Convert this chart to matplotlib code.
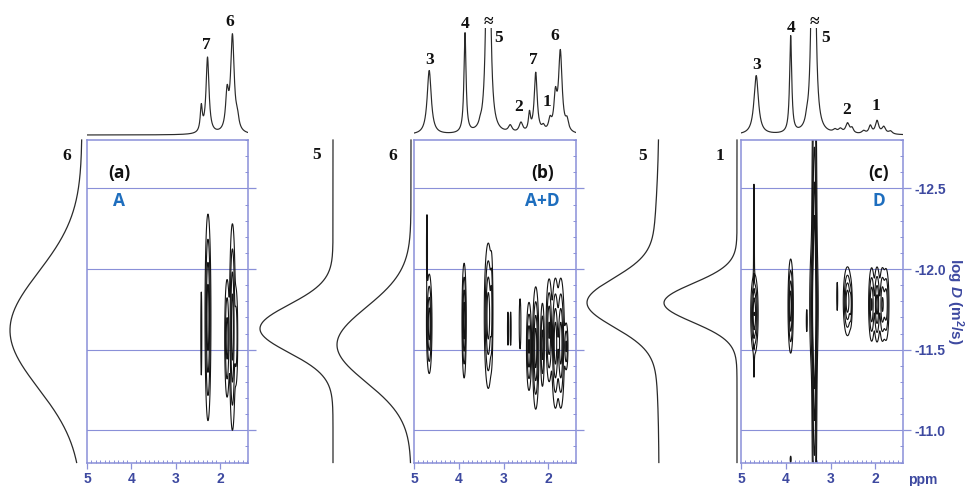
import numpy as np
import matplotlib
matplotlib.use('Agg')
import matplotlib.pyplot as plt
from matplotlib.ticker import MultipleLocator, FixedLocator, FormatStrFormatter

plt.rcParams['axes.unicode_minus'] = False
plt.rcParams['mathtext.fontset'] = 'custom'
plt.rcParams['mathtext.rm'] = 'Liberation Sans:bold'
plt.rcParams['mathtext.it'] = 'Liberation Sans:bold:italic'
plt.rcParams['mathtext.bf'] = 'Liberation Sans:bold'

# ------------------------------------------------------------------ data
panel_tags = ['(a)', '(b)', '(c)']
panel_samples = ['A', 'A+D', 'D']
ppm_ticks = [5, 4, 3, 2]
logd_ticks = [-12.5, -12.0, -11.5, -11.0]
ppm_limits = (5.0, 1.38)
logd_limits = (-10.8, -12.8)

# 1H spectra (top traces): peak ppm, height, half width (ppm)
spec_a_ppm = [2.43, 2.29, 1.85, 1.73, 1.62]
spec_a_height = [25, 76, 36, 96, 11]
spec_a_hw = [0.028, 0.04, 0.04, 0.048, 0.04]

spec_b_ppm = [4.66, 3.86, 3.52, 3.34, 2.85, 2.61, 2.42, 2.28, 2.11, 1.96, 1.84, 1.73, 1.58]
spec_b_height = [64, 100, 3, 600, 7, 10, 18, 60, 5, 11, 33, 80, 10]
spec_b_hw = [0.055, 0.028, 0.03, 0.03, 0.05, 0.05, 0.028, 0.04, 0.04, 0.04, 0.04, 0.048, 0.04]

spec_c_ppm = [4.66, 3.89, 3.53, 3.38, 2.90, 2.78, 2.62, 2.52, 2.26, 2.11, 1.96, 1.81, 1.66]
spec_c_height = [59, 97, 5, 600, 3, 4, 10, 5, 3, 8, 13, 7, 3]
spec_c_hw = [0.06, 0.028, 0.03, 0.03, 0.05, 0.05, 0.05, 0.04, 0.05, 0.04, 0.045, 0.05, 0.05]

# peak labels on the 1H spectra: text, ppm, height
spec_a_labels = [('7', 2.31, 90), ('6', 1.78, 113)]
spec_b_labels = [('3', 4.66, 75), ('4', 3.86, 111), ('\u2248', 3.34, 113), ('5', 3.12, 97),
                 ('2', 2.67, 28), ('7', 2.34, 75), ('1', 2.02, 33), ('6', 1.85, 99)]
spec_c_labels = [('3', 4.66, 70), ('4', 3.88, 107), ('\u2248', 3.37, 113), ('5', 3.10, 97),
                 ('2', 2.63, 25), ('1', 1.98, 29)]

# DOSY cross peaks: ppm, logD, ppm width, logD width, amplitude
cont_a_ppm = [2.28, 2.43, 1.73, 1.85, 1.65]
cont_a_logd = [-11.70, -11.60, -11.64, -11.57, -11.58]
cont_a_sppm = [0.028, 0.008, 0.028, 0.025, 0.02]
cont_a_slogd = [0.27, 0.19, 0.27, 0.17, 0.15]
cont_a_amp = [1.0, 0.15, 1.0, 0.6, 0.4]

cont_b_ppm = [4.66, 4.71, 3.88, 3.34, 3.27, 2.90, 2.84, 2.63, 2.43, 2.28, 2.13, 1.98, 1.84, 1.72, 1.60]
cont_b_logd = [-11.66, -12.12, -11.68, -11.71, -11.75, -11.63, -11.63, -11.66, -11.52, -11.51,
               -11.53, -11.62, -11.54, -11.54, -11.52]
cont_b_sppm = [0.026, 0.008, 0.02, 0.038, 0.015, 0.008, 0.008, 0.012, 0.025, 0.03, 0.02, 0.03,
               0.035, 0.035, 0.02]
cont_b_slogd = [0.13, 0.16, 0.15, 0.19, 0.16, 0.076, 0.076, 0.10, 0.12, 0.16, 0.12, 0.14, 0.17,
                0.17, 0.07]
cont_b_amp = [1.0, 0.15, 1.0, 1.0, 0.5, 0.15, 0.15, 0.2, 0.8, 1.0, 0.6, 0.8, 1.0, 1.0, 0.5]

cont_c_ppm = [4.70, 4.71, 3.89, 3.37, 3.36, 3.53, 3.89, 2.85, 2.62, 2.55, 2.08, 1.96, 1.84, 1.76]
cont_c_logd = [-11.72, -11.93, -11.77, -11.77, -11.80, -11.68, -10.82, -11.83, -11.80, -11.78,
               -11.78, -11.78, -11.78, -11.78]
cont_c_sppm = [0.035, 0.008, 0.025, 0.04, 0.024, 0.008, 0.008, 0.008, 0.04, 0.015, 0.03, 0.03,
               0.03, 0.03]
cont_c_slogd = [0.105, 0.44, 0.123, 0.2, 0.6, 0.05, 0.014, 0.064, 0.09, 0.06, 0.1, 0.1, 0.1, 0.1]
cont_c_amp = [1.0, 0.15, 1.0, 1.0, 1.6, 0.15, 0.15, 0.15, 1.0, 0.5, 0.8, 0.9, 0.8, 0.7]

contour_levels = [0.06, 0.2, 0.45, 0.75, 1.1]

# diffusion projections (side traces): species label, logD centre, width, broad tail
proj_labels = ['6', '5', '6', '5', '1']
proj_center = [-11.62, -11.63, -11.53, -11.79, -11.79]
proj_sigma = [0.36, 0.148, 0.232, 0.15, 0.12]
proj_tail_amp = [0.0, 0.0, 0.0, 0.1, 0.0]
proj_tail_center = [-11.9, -11.9, -11.9, -11.9, -11.9]
proj_tail_sigma = [0.4, 0.4, 0.4, 0.4, 0.4]

# ------------------------------------------------------------------ layout
W, H = 969, 486
fig = plt.figure(figsize=(W / 100, H / 100), dpi=100)

FRAME = '#8a90d8'
TICKC = '#3d49a0'
BLUE = '#1e6ebe'
LINE = '#141414'
SERIF = 'Liberation Serif'
SANS = 'Liberation Sans'


def px_axes(x0, y0, x1, y1):
    return fig.add_axes([x0 / W, 1 - y1 / H, (x1 - x0) / W, (y1 - y0) / H])


def px_text(x, y, s, **kw):
    fig.text(x / W, 1 - y / H, s, **kw)


box_x = [(87, 248), (414, 576), (741, 903)]
BOX_TOP, BOX_BOT = 140, 462.5
tag_ppm = [4.28, 2.13, 1.93]

specs = [(spec_a_ppm, spec_a_height, spec_a_hw, spec_a_labels),
         (spec_b_ppm, spec_b_height, spec_b_hw, spec_b_labels),
         (spec_c_ppm, spec_c_height, spec_c_hw, spec_c_labels)]
conts = [(cont_a_ppm, cont_a_logd, cont_a_sppm, cont_a_slogd, cont_a_amp),
         (cont_b_ppm, cont_b_logd, cont_b_sppm, cont_b_slogd, cont_b_amp),
         (cont_c_ppm, cont_c_logd, cont_c_sppm, cont_c_slogd, cont_c_amp)]

ppm_grid = np.linspace(ppm_limits[0], ppm_limits[1], 1400)
logd_grid = np.linspace(logd_limits[1], logd_limits[0], 600)
PX, LY = np.meshgrid(ppm_grid, logd_grid)
ppm_line = np.linspace(ppm_limits[0], ppm_limits[1], 3000)

for i in range(3):
    x0, x1 = box_x[i]
    # ---------------- 1D spectrum
    sp = px_axes(x0, 28, x1, 137)
    p, h, w, labs = specs[i]
    y = np.zeros_like(ppm_line)
    for pp, hh, ww in zip(p, h, w):
        y += hh / (1 + ((ppm_line - pp) / ww) ** 2)
    sp.plot(ppm_line, y, color='#2a2a2a', lw=0.85)
    sp.set_xlim(*ppm_limits)
    sp.set_ylim(-2, 107)
    sp.axis('off')
    for t, pp, hh in labs:
        sp.text(pp, hh, t, ha='center', va='center', fontsize=12.5, fontweight='bold',
                family=[SERIF, 'DejaVu Serif'], color='#111111')

    # ---------------- 2D DOSY
    ax = px_axes(x0, BOX_TOP, x1, BOX_BOT)
    cp, cl, csx, csy, ca = conts[i]
    Z = np.zeros_like(PX)
    for a, b, sx, sy, am in zip(cp, cl, csx, csy, ca):
        Z += am * np.exp(-0.5 * (((PX - a) / sx) ** 2 + ((LY - b) / sy) ** 2))
    ax.contour(PX, LY, Z, levels=contour_levels, colors=LINE, linewidths=0.8)
    ax.set_xlim(*ppm_limits)
    ax.set_ylim(*logd_limits)
    for s in ax.spines.values():
        s.set_color(FRAME)
        s.set_linewidth(1.1)
    ax.yaxis.tick_right()
    ax.yaxis.set_major_locator(FixedLocator(logd_ticks))
    ax.yaxis.set_minor_locator(MultipleLocator(0.1))
    ax.yaxis.set_major_formatter(FormatStrFormatter('%.1f'))
    ax.xaxis.set_major_locator(FixedLocator(ppm_ticks))
    ax.xaxis.set_minor_locator(MultipleLocator(0.1))
    ax.xaxis.set_major_formatter(FormatStrFormatter('%d'))
    ax.grid(axis='y', which='major', color=FRAME, lw=0.8)
    ax.set_axisbelow(True)
    ax.tick_params(axis='y', which='major', direction='out', length=5.5, width=0.9, color=FRAME,
                   labelright=(i == 2), labelleft=False, left=False, labelcolor=TICKC,
                   labelsize=10, pad=2.5)
    ax.tick_params(axis='y', which='minor', direction='in', length=2.2, width=0.7, color=FRAME,
                   left=False)
    ax.tick_params(axis='x', which='major', direction='out', length=4, width=0.9, color=FRAME,
                   labelcolor=TICKC, labelsize=10, pad=3)
    ax.tick_params(axis='x', which='minor', direction='in', length=2.2, width=0.7, color=FRAME)
    for lab in ax.get_xticklabels() + ax.get_yticklabels():
        lab.set_fontweight('bold')
        lab.set_family(SANS)
    ax.text(tag_ppm[i], -12.595, panel_tags[i], fontsize=12.5, fontweight='bold',
            family='Open Sans', color='#111111', ha='center', va='center')
    ax.text(tag_ppm[i], -12.42, panel_samples[i], fontsize=12.5, fontweight='bold',
            family='Open Sans', color=BLUE, ha='center', va='center')
    if i == 2:
        ax.yaxis.set_label_position('right')
        ax.set_ylabel('log $D$ (m$^2$/s)', rotation=270, fontsize=11, fontweight='bold',
                      family=SANS, color=TICKC, labelpad=14, y=0.5)
        ax.text(1.12, -0.054, 'ppm', transform=ax.transAxes, fontsize=10, fontweight='bold',
                family=SANS, color=TICKC, ha='center', va='center')

# ---------------- diffusion projections
proj_box = [(10, 82), (260, 333), (337, 411), (587, 659), (664, 737)]
proj_label_px = [(67, 156), (317, 155), (393, 156), (643, 156), (720, 156)]
ld = np.linspace(logd_limits[1], logd_limits[0], 800)
for k in range(5):
    a0, a1 = proj_box[k]
    pa = px_axes(a0, BOX_TOP, a1, BOX_BOT)
    v = np.exp(-0.5 * ((ld - proj_center[k]) / proj_sigma[k]) ** 2)
    v += proj_tail_amp[k] * np.exp(-0.5 * ((ld - proj_tail_center[k]) / proj_tail_sigma[k]) ** 2)
    v = v / v.max()
    pa.plot(v, ld, color='#2a2a2a', lw=0.9, clip_on=False)
    pa.set_xlim(1.0, 0.0)
    pa.set_ylim(*logd_limits)
    pa.axis('off')
    lx, ly = proj_label_px[k]
    px_text(lx, ly, proj_labels[k], fontsize=12.5, fontweight='bold', family=[SERIF, 'DejaVu Serif'],
            color='#111111', ha='center', va='center')

fig.savefig('out.png', dpi=100)
